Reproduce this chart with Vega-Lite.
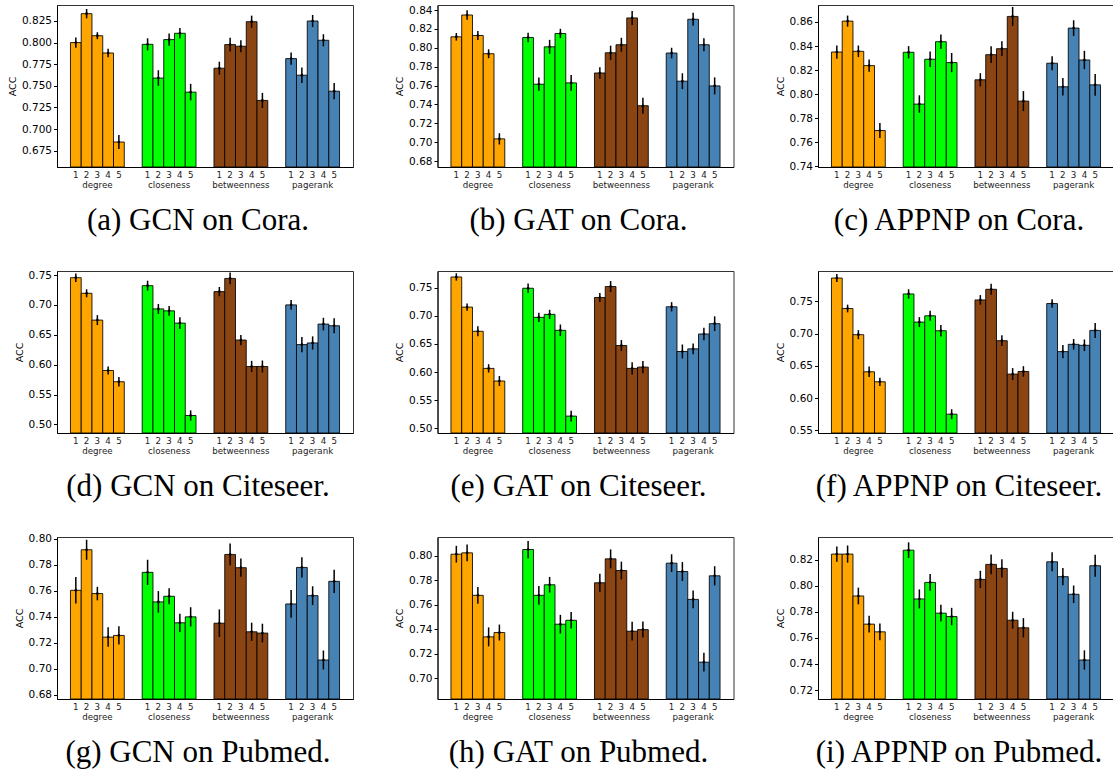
{
"$schema": "https://vega.github.io/schema/vega-lite/v6.json",
"padding": {"left": 6, "top": 4, "right": 0, "bottom": 0},
"autosize": {"type": "pad"},
"datasets": {"runs": [
{"panel":"a","group":"degree","rank":1,"acc":0.800,"err":0.006},
{"panel":"a","group":"degree","rank":2,"acc":0.8335,"err":0.0054},
{"panel":"a","group":"degree","rank":3,"acc":0.808,"err":0.004},
{"panel":"a","group":"degree","rank":4,"acc":0.788,"err":0.005},
{"panel":"a","group":"degree","rank":5,"acc":0.685,"err":0.008},
{"panel":"a","group":"closeness","rank":1,"acc":0.798,"err":0.007},
{"panel":"a","group":"closeness","rank":2,"acc":0.759,"err":0.009},
{"panel":"a","group":"closeness","rank":3,"acc":0.8035,"err":0.007},
{"panel":"a","group":"closeness","rank":4,"acc":0.8108,"err":0.006},
{"panel":"a","group":"closeness","rank":5,"acc":0.7427,"err":0.0096},
{"panel":"a","group":"betweenness","rank":1,"acc":0.7704,"err":0.0075},
{"panel":"a","group":"betweenness","rank":2,"acc":0.7977,"err":0.008},
{"panel":"a","group":"betweenness","rank":3,"acc":0.7958,"err":0.007},
{"panel":"a","group":"betweenness","rank":4,"acc":0.8242,"err":0.007},
{"panel":"a","group":"betweenness","rank":5,"acc":0.7331,"err":0.0087},
{"panel":"a","group":"pagerank","rank":1,"acc":0.7815,"err":0.007},
{"panel":"a","group":"pagerank","rank":2,"acc":0.7623,"err":0.009},
{"panel":"a","group":"pagerank","rank":3,"acc":0.825,"err":0.007},
{"panel":"a","group":"pagerank","rank":4,"acc":0.8027,"err":0.007},
{"panel":"a","group":"pagerank","rank":5,"acc":0.7438,"err":0.0094},
{"panel":"b","group":"degree","rank":1,"acc":0.8116,"err":0.004},
{"panel":"b","group":"degree","rank":2,"acc":0.8347,"err":0.005},
{"panel":"b","group":"degree","rank":3,"acc":0.813,"err":0.0047},
{"panel":"b","group":"degree","rank":4,"acc":0.7937,"err":0.0047},
{"panel":"b","group":"degree","rank":5,"acc":0.7035,"err":0.006},
{"panel":"b","group":"closeness","rank":1,"acc":0.8109,"err":0.005},
{"panel":"b","group":"closeness","rank":2,"acc":0.7614,"err":0.007},
{"panel":"b","group":"closeness","rank":3,"acc":0.801,"err":0.0074},
{"panel":"b","group":"closeness","rank":4,"acc":0.8151,"err":0.005},
{"panel":"b","group":"closeness","rank":5,"acc":0.7628,"err":0.0084},
{"panel":"b","group":"betweenness","rank":1,"acc":0.7733,"err":0.006},
{"panel":"b","group":"betweenness","rank":2,"acc":0.7947,"err":0.0075},
{"panel":"b","group":"betweenness","rank":3,"acc":0.8032,"err":0.0074},
{"panel":"b","group":"betweenness","rank":4,"acc":0.8316,"err":0.0074},
{"panel":"b","group":"betweenness","rank":5,"acc":0.7386,"err":0.0084},
{"panel":"b","group":"pagerank","rank":1,"acc":0.7944,"err":0.0056},
{"panel":"b","group":"pagerank","rank":2,"acc":0.7646,"err":0.0084},
{"panel":"b","group":"pagerank","rank":3,"acc":0.8302,"err":0.0068},
{"panel":"b","group":"pagerank","rank":4,"acc":0.8032,"err":0.007},
{"panel":"b","group":"pagerank","rank":5,"acc":0.7596,"err":0.009},
{"panel":"c","group":"degree","rank":1,"acc":0.835,"err":0.0055},
{"panel":"c","group":"degree","rank":2,"acc":0.8607,"err":0.0046},
{"panel":"c","group":"degree","rank":3,"acc":0.8356,"err":0.0048},
{"panel":"c","group":"degree","rank":4,"acc":0.8237,"err":0.005},
{"panel":"c","group":"degree","rank":5,"acc":0.7697,"err":0.0062},
{"panel":"c","group":"closeness","rank":1,"acc":0.8348,"err":0.0051},
{"panel":"c","group":"closeness","rank":2,"acc":0.7917,"err":0.0073},
{"panel":"c","group":"closeness","rank":3,"acc":0.829,"err":0.0065},
{"panel":"c","group":"closeness","rank":4,"acc":0.8436,"err":0.006},
{"panel":"c","group":"closeness","rank":5,"acc":0.8262,"err":0.008},
{"panel":"c","group":"betweenness","rank":1,"acc":0.8119,"err":0.0055},
{"panel":"c","group":"betweenness","rank":2,"acc":0.8328,"err":0.0069},
{"panel":"c","group":"betweenness","rank":3,"acc":0.8378,"err":0.0062},
{"panel":"c","group":"betweenness","rank":4,"acc":0.8646,"err":0.0079},
{"panel":"c","group":"betweenness","rank":5,"acc":0.7942,"err":0.0083},
{"panel":"c","group":"pagerank","rank":1,"acc":0.8257,"err":0.0058},
{"panel":"c","group":"pagerank","rank":2,"acc":0.8061,"err":0.0073},
{"panel":"c","group":"pagerank","rank":3,"acc":0.8549,"err":0.0065},
{"panel":"c","group":"pagerank","rank":4,"acc":0.8284,"err":0.0076},
{"panel":"c","group":"pagerank","rank":5,"acc":0.8077,"err":0.009},
{"panel":"d","group":"degree","rank":1,"acc":0.7455,"err":0.007},
{"panel":"d","group":"degree","rank":2,"acc":0.7194,"err":0.0067},
{"panel":"d","group":"degree","rank":3,"acc":0.6745,"err":0.0083},
{"panel":"d","group":"degree","rank":4,"acc":0.5902,"err":0.0067},
{"panel":"d","group":"degree","rank":5,"acc":0.5714,"err":0.0078},
{"panel":"d","group":"closeness","rank":1,"acc":0.7322,"err":0.0083},
{"panel":"d","group":"closeness","rank":2,"acc":0.6933,"err":0.0083},
{"panel":"d","group":"closeness","rank":3,"acc":0.690,"err":0.008},
{"panel":"d","group":"closeness","rank":4,"acc":0.6695,"err":0.01},
{"panel":"d","group":"closeness","rank":5,"acc":0.5149,"err":0.0086},
{"panel":"d","group":"betweenness","rank":1,"acc":0.7222,"err":0.0078},
{"panel":"d","group":"betweenness","rank":2,"acc":0.7443,"err":0.0097},
{"panel":"d","group":"betweenness","rank":3,"acc":0.6412,"err":0.0086},
{"panel":"d","group":"betweenness","rank":4,"acc":0.5969,"err":0.0094},
{"panel":"d","group":"betweenness","rank":5,"acc":0.5969,"err":0.01},
{"panel":"d","group":"pagerank","rank":1,"acc":0.700,"err":0.0083},
{"panel":"d","group":"pagerank","rank":2,"acc":0.6335,"err":0.0127},
{"panel":"d","group":"pagerank","rank":3,"acc":0.6363,"err":0.011},
{"panel":"d","group":"pagerank","rank":4,"acc":0.6679,"err":0.0105},
{"panel":"d","group":"pagerank","rank":5,"acc":0.6651,"err":0.0125},
{"panel":"e","group":"degree","rank":1,"acc":0.7688,"err":0.0065},
{"panel":"e","group":"degree","rank":2,"acc":0.7153,"err":0.0065},
{"panel":"e","group":"degree","rank":3,"acc":0.6724,"err":0.0088},
{"panel":"e","group":"degree","rank":4,"acc":0.6065,"err":0.0074},
{"panel":"e","group":"degree","rank":5,"acc":0.5841,"err":0.0088},
{"panel":"e","group":"closeness","rank":1,"acc":0.7488,"err":0.0082},
{"panel":"e","group":"closeness","rank":2,"acc":0.6971,"err":0.0082},
{"panel":"e","group":"closeness","rank":3,"acc":0.7024,"err":0.0082},
{"panel":"e","group":"closeness","rank":4,"acc":0.6741,"err":0.0103},
{"panel":"e","group":"closeness","rank":5,"acc":0.5218,"err":0.0097},
{"panel":"e","group":"betweenness","rank":1,"acc":0.7324,"err":0.008},
{"panel":"e","group":"betweenness","rank":2,"acc":0.7518,"err":0.0097},
{"panel":"e","group":"betweenness","rank":3,"acc":0.6471,"err":0.0097},
{"panel":"e","group":"betweenness","rank":4,"acc":0.6065,"err":0.011},
{"panel":"e","group":"betweenness","rank":5,"acc":0.6088,"err":0.011},
{"panel":"e","group":"pagerank","rank":1,"acc":0.7159,"err":0.0082},
{"panel":"e","group":"pagerank","rank":2,"acc":0.6365,"err":0.0124},
{"panel":"e","group":"pagerank","rank":3,"acc":0.6412,"err":0.0094},
{"panel":"e","group":"pagerank","rank":4,"acc":0.6676,"err":0.011},
{"panel":"e","group":"pagerank","rank":5,"acc":0.6859,"err":0.013},
{"panel":"f","group":"degree","rank":1,"acc":0.7864,"err":0.0062},
{"panel":"f","group":"degree","rank":2,"acc":0.7391,"err":0.006},
{"panel":"f","group":"degree","rank":3,"acc":0.6985,"err":0.007},
{"panel":"f","group":"degree","rank":4,"acc":0.6409,"err":0.0082},
{"panel":"f","group":"degree","rank":5,"acc":0.6254,"err":0.0064},
{"panel":"f","group":"closeness","rank":1,"acc":0.7617,"err":0.0072},
{"panel":"f","group":"closeness","rank":2,"acc":0.718,"err":0.0077},
{"panel":"f","group":"closeness","rank":3,"acc":0.7278,"err":0.0077},
{"panel":"f","group":"closeness","rank":4,"acc":0.7046,"err":0.009},
{"panel":"f","group":"closeness","rank":5,"acc":0.5751,"err":0.0077},
{"panel":"f","group":"betweenness","rank":1,"acc":0.7524,"err":0.0075},
{"panel":"f","group":"betweenness","rank":2,"acc":0.7689,"err":0.0085},
{"panel":"f","group":"betweenness","rank":3,"acc":0.6892,"err":0.0082},
{"panel":"f","group":"betweenness","rank":4,"acc":0.6373,"err":0.0093},
{"panel":"f","group":"betweenness","rank":5,"acc":0.6414,"err":0.0082},
{"panel":"f","group":"pagerank","rank":1,"acc":0.7468,"err":0.0067},
{"panel":"f","group":"pagerank","rank":2,"acc":0.6722,"err":0.0103},
{"panel":"f","group":"pagerank","rank":3,"acc":0.6835,"err":0.0082},
{"panel":"f","group":"pagerank","rank":4,"acc":0.682,"err":0.009},
{"panel":"f","group":"pagerank","rank":5,"acc":0.7051,"err":0.0116},
{"panel":"g","group":"degree","rank":1,"acc":0.7605,"err":0.0102},
{"panel":"g","group":"degree","rank":2,"acc":0.7917,"err":0.0077},
{"panel":"g","group":"degree","rank":3,"acc":0.758,"err":0.0052},
{"panel":"g","group":"degree","rank":4,"acc":0.7245,"err":0.0075},
{"panel":"g","group":"degree","rank":5,"acc":0.7258,"err":0.007},
{"panel":"g","group":"closeness","rank":1,"acc":0.7743,"err":0.0097},
{"panel":"g","group":"closeness","rank":2,"acc":0.7516,"err":0.0083},
{"panel":"g","group":"closeness","rank":3,"acc":0.7559,"err":0.0061},
{"panel":"g","group":"closeness","rank":4,"acc":0.7355,"err":0.007},
{"panel":"g","group":"closeness","rank":5,"acc":0.7401,"err":0.0074},
{"panel":"g","group":"betweenness","rank":1,"acc":0.7352,"err":0.0106},
{"panel":"g","group":"betweenness","rank":2,"acc":0.7881,"err":0.0084},
{"panel":"g","group":"betweenness","rank":3,"acc":0.7779,"err":0.007},
{"panel":"g","group":"betweenness","rank":4,"acc":0.7286,"err":0.007},
{"panel":"g","group":"betweenness","rank":5,"acc":0.7276,"err":0.0072},
{"panel":"g","group":"pagerank","rank":1,"acc":0.750,"err":0.0107},
{"panel":"g","group":"pagerank","rank":2,"acc":0.7781,"err":0.0078},
{"panel":"g","group":"pagerank","rank":3,"acc":0.7564,"err":0.0072},
{"panel":"g","group":"pagerank","rank":4,"acc":0.7069,"err":0.0073},
{"panel":"g","group":"pagerank","rank":5,"acc":0.7674,"err":0.009},
{"panel":"h","group":"degree","rank":1,"acc":0.8011,"err":0.0068},
{"panel":"h","group":"degree","rank":2,"acc":0.8022,"err":0.0068},
{"panel":"h","group":"degree","rank":3,"acc":0.7676,"err":0.0068},
{"panel":"h","group":"degree","rank":4,"acc":0.7338,"err":0.0077},
{"panel":"h","group":"degree","rank":5,"acc":0.7373,"err":0.0065},
{"panel":"h","group":"closeness","rank":1,"acc":0.8049,"err":0.007},
{"panel":"h","group":"closeness","rank":2,"acc":0.7676,"err":0.0077},
{"panel":"h","group":"closeness","rank":3,"acc":0.7762,"err":0.0064},
{"panel":"h","group":"closeness","rank":4,"acc":0.7441,"err":0.0076},
{"panel":"h","group":"closeness","rank":5,"acc":0.7473,"err":0.0068},
{"panel":"h","group":"betweenness","rank":1,"acc":0.7778,"err":0.0073},
{"panel":"h","group":"betweenness","rank":2,"acc":0.7973,"err":0.0077},
{"panel":"h","group":"betweenness","rank":3,"acc":0.7878,"err":0.0072},
{"panel":"h","group":"betweenness","rank":4,"acc":0.7384,"err":0.0076},
{"panel":"h","group":"betweenness","rank":5,"acc":0.7397,"err":0.0065},
{"panel":"h","group":"pagerank","rank":1,"acc":0.7938,"err":0.0072},
{"panel":"h","group":"pagerank","rank":2,"acc":0.787,"err":0.0077},
{"panel":"h","group":"pagerank","rank":3,"acc":0.7643,"err":0.0073},
{"panel":"h","group":"pagerank","rank":4,"acc":0.7132,"err":0.0077},
{"panel":"h","group":"pagerank","rank":5,"acc":0.7835,"err":0.0078},
{"panel":"i","group":"degree","rank":1,"acc":0.8242,"err":0.0059},
{"panel":"i","group":"degree","rank":2,"acc":0.8242,"err":0.0066},
{"panel":"i","group":"degree","rank":3,"acc":0.7921,"err":0.0064},
{"panel":"i","group":"degree","rank":4,"acc":0.7705,"err":0.0064},
{"panel":"i","group":"degree","rank":5,"acc":0.7646,"err":0.0064},
{"panel":"i","group":"closeness","rank":1,"acc":0.8272,"err":0.006},
{"panel":"i","group":"closeness","rank":2,"acc":0.7898,"err":0.0073},
{"panel":"i","group":"closeness","rank":3,"acc":0.8025,"err":0.0064},
{"panel":"i","group":"closeness","rank":4,"acc":0.7789,"err":0.0064},
{"panel":"i","group":"closeness","rank":5,"acc":0.7763,"err":0.0067},
{"panel":"i","group":"betweenness","rank":1,"acc":0.8048,"err":0.0066},
{"panel":"i","group":"betweenness","rank":2,"acc":0.8163,"err":0.0075},
{"panel":"i","group":"betweenness","rank":3,"acc":0.8132,"err":0.007},
{"panel":"i","group":"betweenness","rank":4,"acc":0.7735,"err":0.0065},
{"panel":"i","group":"betweenness","rank":5,"acc":0.7677,"err":0.0074},
{"panel":"i","group":"pagerank","rank":1,"acc":0.8183,"err":0.0073},
{"panel":"i","group":"pagerank","rank":2,"acc":0.8069,"err":0.0066},
{"panel":"i","group":"pagerank","rank":3,"acc":0.7934,"err":0.0067},
{"panel":"i","group":"pagerank","rank":4,"acc":0.743,"err":0.0074},
{"panel":"i","group":"pagerank","rank":5,"acc":0.8153,"err":0.0084}
]},
"columns": 3,
"bounds": "flush",
"spacing": {"row": 104, "column": 84.5},
"resolve": {"scale": {"y": "independent", "x": "independent", "xOffset": "independent"}, "axis": {"x": "independent", "y": "independent"}},
"concat": [
{"width": 296, "height": 162, "title": {"text": "(a) GCN on Cora."}, "data": {"name": "runs"}, "transform": [{"filter": "datum.panel == 'a'"}],
 "encoding": {"x": {"field": "group", "type": "nominal", "sort": ["degree","closeness","betweenness","pagerank"], "title": null, "scale": {"paddingInner": 0.25, "paddingOuter": 0.1875}},
  "xOffset": {"field": "rank", "type": "ordinal", "scale": {"paddingInner": 0, "paddingOuter": 0}},
  "y": {"field": "acc", "type": "quantitative", "title": "ACC", "stack": null, "scale": {"domain": [0.6561, 0.8435], "zero": false, "nice": false}, "axis": {"values": [0.675, 0.7, 0.725, 0.75, 0.775, 0.8, 0.825], "format": ".3f"}}},
 "layer": [
  {"mark": {"type": "bar", "stroke": "#000", "strokeWidth": 1, "strokeOpacity": 0.85}, "encoding": {"y2": {"value": "height"}, "color": {"field": "group", "type": "nominal", "legend": null, "scale": {"domain": ["degree","closeness","betweenness","pagerank"], "range": ["#FFA500","#00FF00","#8B4513","#4682B4"]}}}},
  {"mark": {"type": "errorbar", "color": "#000", "thickness": 1.5}, "encoding": {"yError": {"field": "err"}}},
  {"mark": {"type": "point", "filled": true, "color": "#000", "size": 7, "opacity": 1}},
  {"mark": {"type": "text", "fontSize": 8.7, "baseline": "middle", "dy": 8, "color": "#222"}, "encoding": {"y": {"value": "height"}, "text": {"field": "rank"}}}
 ]},
{"width": 296, "height": 162, "title": {"text": "(b) GAT on Cora."}, "data": {"name": "runs"}, "transform": [{"filter": "datum.panel == 'b'"}],
 "encoding": {"x": {"field": "group", "type": "nominal", "sort": ["degree","closeness","betweenness","pagerank"], "title": null, "scale": {"paddingInner": 0.25, "paddingOuter": 0.1875}},
  "xOffset": {"field": "rank", "type": "ordinal", "scale": {"paddingInner": 0, "paddingOuter": 0}},
  "y": {"field": "acc", "type": "quantitative", "title": "ACC", "stack": null, "scale": {"domain": [0.6737, 0.8453], "zero": false, "nice": false}, "axis": {"values": [0.68, 0.7, 0.72, 0.74, 0.76, 0.78, 0.8, 0.82, 0.84], "format": ".2f"}}},
 "layer": [
  {"mark": {"type": "bar", "stroke": "#000", "strokeWidth": 1, "strokeOpacity": 0.85}, "encoding": {"y2": {"value": "height"}, "color": {"field": "group", "type": "nominal", "legend": null, "scale": {"domain": ["degree","closeness","betweenness","pagerank"], "range": ["#FFA500","#00FF00","#8B4513","#4682B4"]}}}},
  {"mark": {"type": "errorbar", "color": "#000", "thickness": 1.5}, "encoding": {"yError": {"field": "err"}}},
  {"mark": {"type": "point", "filled": true, "color": "#000", "size": 7, "opacity": 1}},
  {"mark": {"type": "text", "fontSize": 8.7, "baseline": "middle", "dy": 8, "color": "#222"}, "encoding": {"y": {"value": "height"}, "text": {"field": "rank"}}}
 ]},
{"width": 296, "height": 162, "title": {"text": "(c) APPNP on Cora."}, "data": {"name": "runs"}, "transform": [{"filter": "datum.panel == 'c'"}],
 "encoding": {"x": {"field": "group", "type": "nominal", "sort": ["degree","closeness","betweenness","pagerank"], "title": null, "scale": {"paddingInner": 0.25, "paddingOuter": 0.1875}},
  "xOffset": {"field": "rank", "type": "ordinal", "scale": {"paddingInner": 0, "paddingOuter": 0}},
  "y": {"field": "acc", "type": "quantitative", "title": "ACC", "stack": null, "scale": {"domain": [0.7394, 0.8741], "zero": false, "nice": false}, "axis": {"values": [0.74, 0.76, 0.78, 0.8, 0.82, 0.84, 0.86], "format": ".2f"}}},
 "layer": [
  {"mark": {"type": "bar", "stroke": "#000", "strokeWidth": 1, "strokeOpacity": 0.85}, "encoding": {"y2": {"value": "height"}, "color": {"field": "group", "type": "nominal", "legend": null, "scale": {"domain": ["degree","closeness","betweenness","pagerank"], "range": ["#FFA500","#00FF00","#8B4513","#4682B4"]}}}},
  {"mark": {"type": "errorbar", "color": "#000", "thickness": 1.5}, "encoding": {"yError": {"field": "err"}}},
  {"mark": {"type": "point", "filled": true, "color": "#000", "size": 7, "opacity": 1}},
  {"mark": {"type": "text", "fontSize": 8.7, "baseline": "middle", "dy": 8, "color": "#222"}, "encoding": {"y": {"value": "height"}, "text": {"field": "rank"}}}
 ]},
{"width": 296, "height": 162, "title": {"text": "(d) GCN on Citeseer."}, "data": {"name": "runs"}, "transform": [{"filter": "datum.panel == 'd'"}],
 "encoding": {"x": {"field": "group", "type": "nominal", "sort": ["degree","closeness","betweenness","pagerank"], "title": null, "scale": {"paddingInner": 0.25, "paddingOuter": 0.1875}},
  "xOffset": {"field": "rank", "type": "ordinal", "scale": {"paddingInner": 0, "paddingOuter": 0}},
  "y": {"field": "acc", "type": "quantitative", "title": "ACC", "stack": null, "scale": {"domain": [0.4856, 0.7567], "zero": false, "nice": false}, "axis": {"values": [0.5, 0.55, 0.6, 0.65, 0.7, 0.75], "format": ".2f"}}},
 "layer": [
  {"mark": {"type": "bar", "stroke": "#000", "strokeWidth": 1, "strokeOpacity": 0.85}, "encoding": {"y2": {"value": "height"}, "color": {"field": "group", "type": "nominal", "legend": null, "scale": {"domain": ["degree","closeness","betweenness","pagerank"], "range": ["#FFA500","#00FF00","#8B4513","#4682B4"]}}}},
  {"mark": {"type": "errorbar", "color": "#000", "thickness": 1.5}, "encoding": {"yError": {"field": "err"}}},
  {"mark": {"type": "point", "filled": true, "color": "#000", "size": 7, "opacity": 1}},
  {"mark": {"type": "text", "fontSize": 8.7, "baseline": "middle", "dy": 8, "color": "#222"}, "encoding": {"y": {"value": "height"}, "text": {"field": "rank"}}}
 ]},
{"width": 296, "height": 162, "title": {"text": "(e) GAT on Citeseer."}, "data": {"name": "runs"}, "transform": [{"filter": "datum.panel == 'e'"}],
 "encoding": {"x": {"field": "group", "type": "nominal", "sort": ["degree","closeness","betweenness","pagerank"], "title": null, "scale": {"paddingInner": 0.25, "paddingOuter": 0.1875}},
  "xOffset": {"field": "rank", "type": "ordinal", "scale": {"paddingInner": 0, "paddingOuter": 0}},
  "y": {"field": "acc", "type": "quantitative", "title": "ACC", "stack": null, "scale": {"domain": [0.4918, 0.7794], "zero": false, "nice": false}, "axis": {"values": [0.5, 0.55, 0.6, 0.65, 0.7, 0.75], "format": ".2f"}}},
 "layer": [
  {"mark": {"type": "bar", "stroke": "#000", "strokeWidth": 1, "strokeOpacity": 0.85}, "encoding": {"y2": {"value": "height"}, "color": {"field": "group", "type": "nominal", "legend": null, "scale": {"domain": ["degree","closeness","betweenness","pagerank"], "range": ["#FFA500","#00FF00","#8B4513","#4682B4"]}}}},
  {"mark": {"type": "errorbar", "color": "#000", "thickness": 1.5}, "encoding": {"yError": {"field": "err"}}},
  {"mark": {"type": "point", "filled": true, "color": "#000", "size": 7, "opacity": 1}},
  {"mark": {"type": "text", "fontSize": 8.7, "baseline": "middle", "dy": 8, "color": "#222"}, "encoding": {"y": {"value": "height"}, "text": {"field": "rank"}}}
 ]},
{"width": 296, "height": 162, "title": {"text": "(f) APPNP on Citeseer."}, "data": {"name": "runs"}, "transform": [{"filter": "datum.panel == 'f'"}],
 "encoding": {"x": {"field": "group", "type": "nominal", "sort": ["degree","closeness","betweenness","pagerank"], "title": null, "scale": {"paddingInner": 0.25, "paddingOuter": 0.1875}},
  "xOffset": {"field": "rank", "type": "ordinal", "scale": {"paddingInner": 0, "paddingOuter": 0}},
  "y": {"field": "acc", "type": "quantitative", "title": "ACC", "stack": null, "scale": {"domain": [0.5459, 0.7973], "zero": false, "nice": false}, "axis": {"values": [0.55, 0.6, 0.65, 0.7, 0.75], "format": ".2f"}}},
 "layer": [
  {"mark": {"type": "bar", "stroke": "#000", "strokeWidth": 1, "strokeOpacity": 0.85}, "encoding": {"y2": {"value": "height"}, "color": {"field": "group", "type": "nominal", "legend": null, "scale": {"domain": ["degree","closeness","betweenness","pagerank"], "range": ["#FFA500","#00FF00","#8B4513","#4682B4"]}}}},
  {"mark": {"type": "errorbar", "color": "#000", "thickness": 1.5}, "encoding": {"yError": {"field": "err"}}},
  {"mark": {"type": "point", "filled": true, "color": "#000", "size": 7, "opacity": 1}},
  {"mark": {"type": "text", "fontSize": 8.7, "baseline": "middle", "dy": 8, "color": "#222"}, "encoding": {"y": {"value": "height"}, "text": {"field": "rank"}}}
 ]},
{"width": 296, "height": 162, "title": {"text": "(g) GCN on Pubmed."}, "data": {"name": "runs"}, "transform": [{"filter": "datum.panel == 'g'"}],
 "encoding": {"x": {"field": "group", "type": "nominal", "sort": ["degree","closeness","betweenness","pagerank"], "title": null, "scale": {"paddingInner": 0.25, "paddingOuter": 0.1875}},
  "xOffset": {"field": "rank", "type": "ordinal", "scale": {"paddingInner": 0, "paddingOuter": 0}},
  "y": {"field": "acc", "type": "quantitative", "title": "ACC", "stack": null, "scale": {"domain": [0.6769, 0.8015], "zero": false, "nice": false}, "axis": {"values": [0.68, 0.7, 0.72, 0.74, 0.76, 0.78, 0.8], "format": ".2f"}}},
 "layer": [
  {"mark": {"type": "bar", "stroke": "#000", "strokeWidth": 1, "strokeOpacity": 0.85}, "encoding": {"y2": {"value": "height"}, "color": {"field": "group", "type": "nominal", "legend": null, "scale": {"domain": ["degree","closeness","betweenness","pagerank"], "range": ["#FFA500","#00FF00","#8B4513","#4682B4"]}}}},
  {"mark": {"type": "errorbar", "color": "#000", "thickness": 1.5}, "encoding": {"yError": {"field": "err"}}},
  {"mark": {"type": "point", "filled": true, "color": "#000", "size": 7, "opacity": 1}},
  {"mark": {"type": "text", "fontSize": 8.7, "baseline": "middle", "dy": 8, "color": "#222"}, "encoding": {"y": {"value": "height"}, "text": {"field": "rank"}}}
 ]},
{"width": 296, "height": 162, "title": {"text": "(h) GAT on Pubmed."}, "data": {"name": "runs"}, "transform": [{"filter": "datum.panel == 'h'"}],
 "encoding": {"x": {"field": "group", "type": "nominal", "sort": ["degree","closeness","betweenness","pagerank"], "title": null, "scale": {"paddingInner": 0.25, "paddingOuter": 0.1875}},
  "xOffset": {"field": "rank", "type": "ordinal", "scale": {"paddingInner": 0, "paddingOuter": 0}},
  "y": {"field": "acc", "type": "quantitative", "title": "ACC", "stack": null, "scale": {"domain": [0.6832, 0.8151], "zero": false, "nice": false}, "axis": {"values": [0.7, 0.72, 0.74, 0.76, 0.78, 0.8], "format": ".2f"}}},
 "layer": [
  {"mark": {"type": "bar", "stroke": "#000", "strokeWidth": 1, "strokeOpacity": 0.85}, "encoding": {"y2": {"value": "height"}, "color": {"field": "group", "type": "nominal", "legend": null, "scale": {"domain": ["degree","closeness","betweenness","pagerank"], "range": ["#FFA500","#00FF00","#8B4513","#4682B4"]}}}},
  {"mark": {"type": "errorbar", "color": "#000", "thickness": 1.5}, "encoding": {"yError": {"field": "err"}}},
  {"mark": {"type": "point", "filled": true, "color": "#000", "size": 7, "opacity": 1}},
  {"mark": {"type": "text", "fontSize": 8.7, "baseline": "middle", "dy": 8, "color": "#222"}, "encoding": {"y": {"value": "height"}, "text": {"field": "rank"}}}
 ]},
{"width": 296, "height": 162, "title": {"text": "(i) APPNP on Pubmed."}, "data": {"name": "runs"}, "transform": [{"filter": "datum.panel == 'i'"}],
 "encoding": {"x": {"field": "group", "type": "nominal", "sort": ["degree","closeness","betweenness","pagerank"], "title": null, "scale": {"paddingInner": 0.25, "paddingOuter": 0.1875}},
  "xOffset": {"field": "rank", "type": "ordinal", "scale": {"paddingInner": 0, "paddingOuter": 0}},
  "y": {"field": "acc", "type": "quantitative", "title": "ACC", "stack": null, "scale": {"domain": [0.7131, 0.8373], "zero": false, "nice": false}, "axis": {"values": [0.72, 0.74, 0.76, 0.78, 0.8, 0.82], "format": ".2f"}}},
 "layer": [
  {"mark": {"type": "bar", "stroke": "#000", "strokeWidth": 1, "strokeOpacity": 0.85}, "encoding": {"y2": {"value": "height"}, "color": {"field": "group", "type": "nominal", "legend": null, "scale": {"domain": ["degree","closeness","betweenness","pagerank"], "range": ["#FFA500","#00FF00","#8B4513","#4682B4"]}}}},
  {"mark": {"type": "errorbar", "color": "#000", "thickness": 1.5}, "encoding": {"yError": {"field": "err"}}},
  {"mark": {"type": "point", "filled": true, "color": "#000", "size": 7, "opacity": 1}},
  {"mark": {"type": "text", "fontSize": 8.7, "baseline": "middle", "dy": 8, "color": "#222"}, "encoding": {"y": {"value": "height"}, "text": {"field": "rank"}}}
 ]}
],
"config": {
 "font": "DejaVu Sans",
 "background": "white",
 "view": {"stroke": "#333", "strokeWidth": 1},
 "axisY": {"titleFontSize": 9.5, "titleFontWeight": "normal", "titleColor": "#000", "labelFontSize": 10.5, "labelColor": "#000", "tickSize": 3.5, "tickColor": "#000", "domainColor": "#000", "grid": false, "titlePadding": 4, "labelPadding": 2},
 "axisX": {"labelAngle": 0, "labelFontSize": 8.7, "labelPadding": 13, "ticks": false, "domainColor": "#000", "labelColor": "#222", "grid": false},
 "title": {"orient": "bottom", "font": "Liberation Serif", "fontSize": 31, "fontWeight": "normal", "color": "#000", "offset": 17, "dx": -7}
}
}
